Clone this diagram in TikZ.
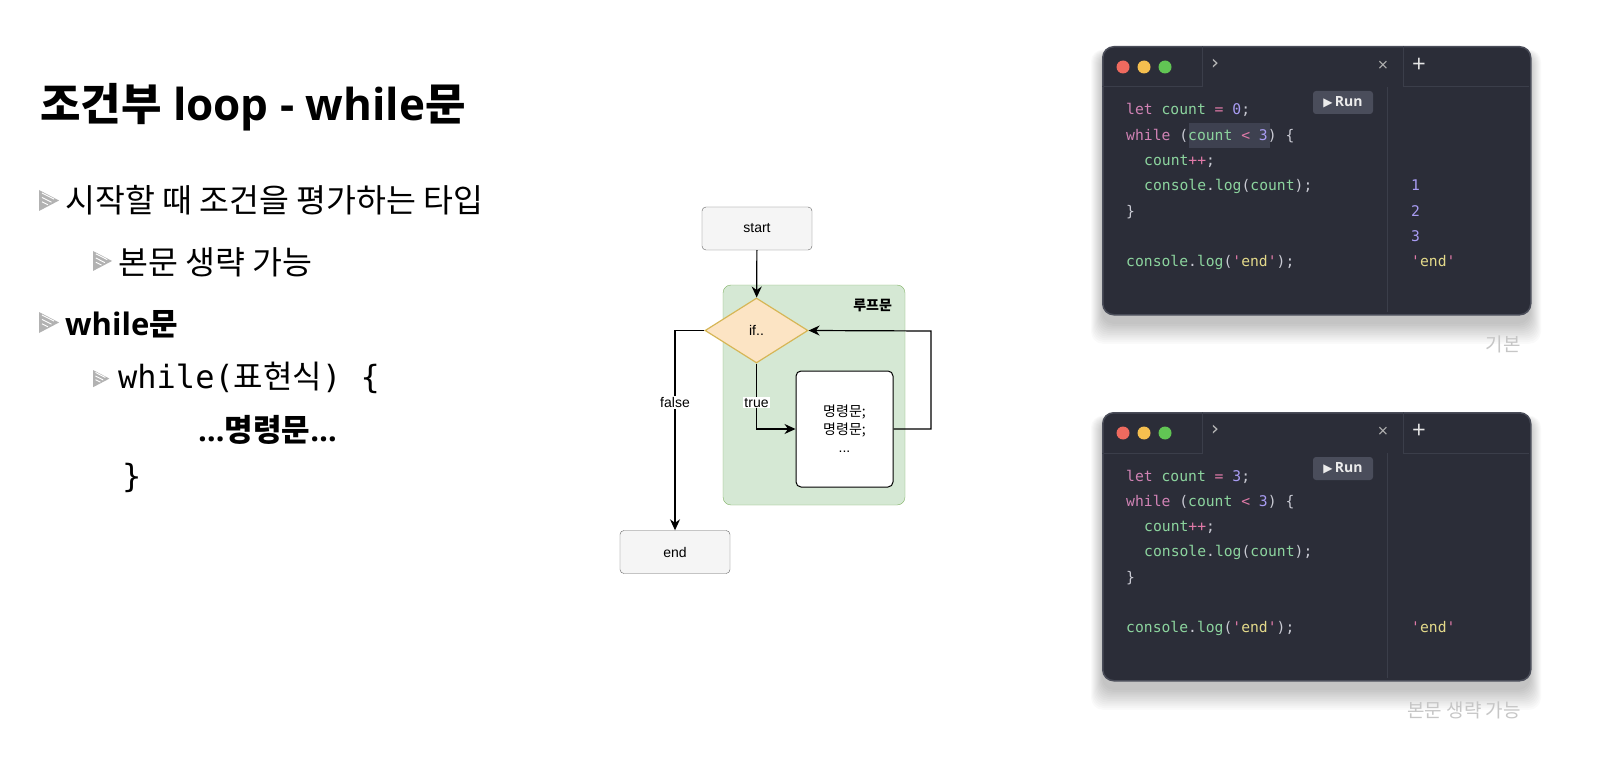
\documentclass[tikz,border=0pt]{standalone}
\usepackage{fontspec}
\setmainfont{Open Sans}
\newfontfamily\kr{Noto Sans CJK KR}
\newfontfamily\codefont{DejaVu Sans Mono}[Ligatures=TeXOff]
\newfontfamily\flowfont{Liberation Sans}
\newfontfamily\symfont{DejaVu Sans}
\usetikzlibrary{shapes.geometric,arrows.meta,positioning,calc}

\definecolor{winbg}{HTML}{2B2D38}
\definecolor{winedge}{HTML}{4A4D59}
\definecolor{winline}{HTML}{3B3E4A}
\definecolor{runbg}{HTML}{4A4D5B}
\definecolor{hlbg}{HTML}{3E4150}
\definecolor{ckw}{HTML}{D183B5}
\definecolor{cid}{HTML}{8CD49E}
\definecolor{cop}{HTML}{E07AA8}
\definecolor{cnum}{HTML}{A89CF2}
\definecolor{cpun}{HTML}{C9CAD3}
\definecolor{cstr}{HTML}{E3D98A}
\definecolor{loopfill}{HTML}{D5E8D4}
\definecolor{loopdraw}{HTML}{82B366}
\definecolor{condfill}{HTML}{FCE4C4}
\definecolor{conddraw}{HTML}{D6B656}
\definecolor{termfill}{HTML}{F5F5F5}
\definecolor{termdraw}{HTML}{666666}
\definecolor{dotred}{HTML}{EE6A5F}
\definecolor{dotyellow}{HTML}{F5BF4F}
\definecolor{dotgreen}{HTML}{61C554}

\newcommand\cKw[1]{\textcolor{ckw}{#1}}
\newcommand\cId[1]{\textcolor{cid}{#1}}
\newcommand\cOp[1]{\textcolor{cop}{#1}}
\newcommand\cNum[1]{\textcolor{cnum}{#1}}
\newcommand\cPu[1]{\textcolor{cpun}{#1}}
\newcommand\cStr[1]{\textcolor{cstr}{#1}}

\begin{document}
\begin{tikzpicture}[
    x=1pt, y=-1pt,
    title/.style={anchor=base west, inner sep=0pt, font=\fontsize{44}{52}\selectfont\bfseries},
    item/.style={anchor=base west, inner sep=0pt, font=\kr\fontsize{32.5}{38}\selectfont},
    monoitem/.style={anchor=base west, inner sep=0pt, font=\codefont\fontsize{32}{38}\selectfont},
    bmark/.pic={
        \fill[gray!60] (0,0) -- (20,10.5) -- (0,21) -- cycle;
        \draw[white, line width=0.9pt] (3,3) -- (15,9.1) (3,7.4) -- (12.5,12.2) (3,11.8) -- (9,14.8);
    },
    term/.style={rectangle, rounded corners=4pt, draw=termdraw, fill=termfill, minimum width=110pt, minimum height=43pt, font=\flowfont\fontsize{14}{16}\selectfont},
    cond/.style={diamond, draw=conddraw, fill=condfill, line width=1.2pt, minimum width=103pt, minimum height=65pt, inner sep=0pt, font=\flowfont\fontsize{14}{16}\selectfont},
    group/.style={rectangle, rounded corners=8pt, draw=loopdraw, fill=loopfill, minimum width=182pt, minimum height=220pt},
    body/.style={rectangle, rounded corners=5pt, draw=black, fill=white, line width=1pt, minimum width=97pt, minimum height=116pt, align=center, font=\kr\fontsize{14}{18}\selectfont},
    arrow/.style={-{Stealth[length=11pt, width=10pt]}, line width=1.2pt},
    tag/.style={fill=white, inner sep=1pt, font=\flowfont\fontsize{14}{16}\selectfont},
    win/.style={rectangle, rounded corners=11pt, draw=winedge, fill=winbg, line width=1.5pt, minimum width=428pt, minimum height=268pt, anchor=north west},
    runbtn/.style={rectangle, rounded corners=3pt, fill=runbg, minimum width=60pt, minimum height=23pt, inner sep=0pt, text=gray!15, font=\fontsize{14}{16}\selectfont\bfseries},
    code/.style={anchor=base west, inner sep=0pt, font=\codefont\fontsize{14.7}{18}\selectfont},
    caption/.style={anchor=base east, inner sep=0pt, text=gray!45, font=\kr\fontsize{19}{22}\selectfont}
]
\useasboundingbox[fill=white] (0,0) rectangle (1612,762);

% left column
\node[title] (head) at (40,121) {{\kr 조건부} loop - while{\kr 문}};
\pic at (39,190) {bmark};
\node[item] (b1) at (65,213) {시작할 때 조건을 평가하는 타입};
\pic[scale=0.95] at (93,251) {bmark};
\node[item] (b2) at (118,275) {본문 생략 가능};
\pic at (39,312) {bmark};
\node[item, font=\fontsize{31}{36}\selectfont\bfseries] (b3) at (65,335) {while{\kr 문}};
\pic[scale=0.82] at (93,370) {bmark};
\node[monoitem] (b4) at (118,388) {while({\kr 표현식}) \{};
\node[item, font=\fontsize{31}{36}\selectfont\bfseries] (b5) at (198,441) {…{\kr 명령문}…};
\node[monoitem] (b6) at (122,487) {\}};

% flowchart
\node[group] (loop) at (814,395) {};
\node[anchor=north east, inner sep=0pt, font=\kr\fontsize{14}{16}\selectfont\bfseries] (looplbl) at ([xshift=-13pt, yshift=-14pt]loop.north east) {루프문};
\node[term] (start) at (757,228.5) {start};
\node[cond] (cond) at (756.5,330.5) {if..};
\node[body] (stmts) at (844.5,429) {명령문;\\명령문;\\{\flowfont ...}};
\node[term] (end) at (675,552) {end};
\coordinate (back) at (931,331);

\draw[arrow] (start) -- (cond);
\draw[arrow] (cond.south) |- node[tag, pos=0.3] {true} (stmts.west);
\draw[arrow] (stmts.east) -| (back) -- (cond.east);
\draw[arrow] (cond.west) -| node[tag, pos=0.68] {false} (end.north);

% code windows
\foreach \dy in {0,366} {
  \begin{scope}[shift={(0,\dy)}]
    \foreach \s in {0,2,...,22}
      \fill[black, opacity=0.02, rounded corners=12pt] (1102-\s*0.5,54-\s*0.2) rectangle (1530+\s*0.5,324+\s*0.9);
    \node[win] (win\dy) at (1102,46) {};
    \draw[winline, line width=1pt] (1102,87) -- (1202,87) -- (1202,46) (1403,46) -- (1403,87) -- (1529,87) (1387,87) -- (1387,312);
    \fill[dotred] (1123,67) circle (6.5);
    \fill[dotyellow] (1144,67) circle (6.5);
    \fill[dotgreen] (1165,67) circle (6.5);
    \node[text=gray!55, font=\symfont\fontsize{20}{22}\selectfont] (chev\dy) at (1215,64) {›};
    \node[text=gray!60, font=\fontsize{18}{20}\selectfont] (close\dy) at (1383,66) {×};
    \node[text=gray!20, font=\fontsize{24}{26}\selectfont] (plus\dy) at (1419,65) {+};
    \node[runbtn] (run\dy) at (1343,102.5) {{\symfont\fontsize{12}{12}\selectfont ▶}\,Run};
  \end{scope}
}

\fill[hlbg] (1189,123) rectangle (1270,148);
\node[code] (a1) at (1126,115) {\cKw{let} \cId{count} \cOp{=} \cNum{0}\cPu{;}};
\node[code] (a2) at (1126,140.3) {\cKw{while} \cPu{(}\cId{count} \cOp{<} \cNum{3}\cPu{)} \cPu{\{}};
\node[code] (a3) at (1144,165.6) {\cId{count}\cOp{++}\cPu{;}};
\node[code] (a4) at (1144,190.9) {\cId{console}\cPu{.}\cId{log}\cPu{(}\cId{count}\cPu{);}};
\node[code] (a5) at (1126,216.2) {\cPu{\}}};
\node[code] (a7) at (1126,266.8) {\cId{console}\cPu{.}\cId{log}\cPu{(}\cOp{'}\cStr{end}\cOp{'}\cPu{);}};
\node[code] (ao1) at (1411,190.9) {\cNum{1}};
\node[code] (ao2) at (1411,216.2) {\cNum{2}};
\node[code] (ao3) at (1411,241.5) {\cNum{3}};
\node[code] (ao4) at (1411,266.8) {\cOp{'}\cStr{end}\cOp{'}};
\node[caption] (capa) at (1521,351) {기본};

\node[code] (b1c) at (1126,481) {\cKw{let} \cId{count} \cOp{=} \cNum{3}\cPu{;}};
\node[code] (b2c) at (1126,506.3) {\cKw{while} \cPu{(}\cId{count} \cOp{<} \cNum{3}\cPu{)} \cPu{\{}};
\node[code] (b3c) at (1144,531.6) {\cId{count}\cOp{++}\cPu{;}};
\node[code] (b4c) at (1144,556.9) {\cId{console}\cPu{.}\cId{log}\cPu{(}\cId{count}\cPu{);}};
\node[code] (b5c) at (1126,582.2) {\cPu{\}}};
\node[code] (b7c) at (1126,632.8) {\cId{console}\cPu{.}\cId{log}\cPu{(}\cOp{'}\cStr{end}\cOp{'}\cPu{);}};
\node[code] (bo4) at (1411,632.8) {\cOp{'}\cStr{end}\cOp{'}};
\node[caption] (capb) at (1521,717) {본문 생략 가능};
\end{tikzpicture}
\end{document}
